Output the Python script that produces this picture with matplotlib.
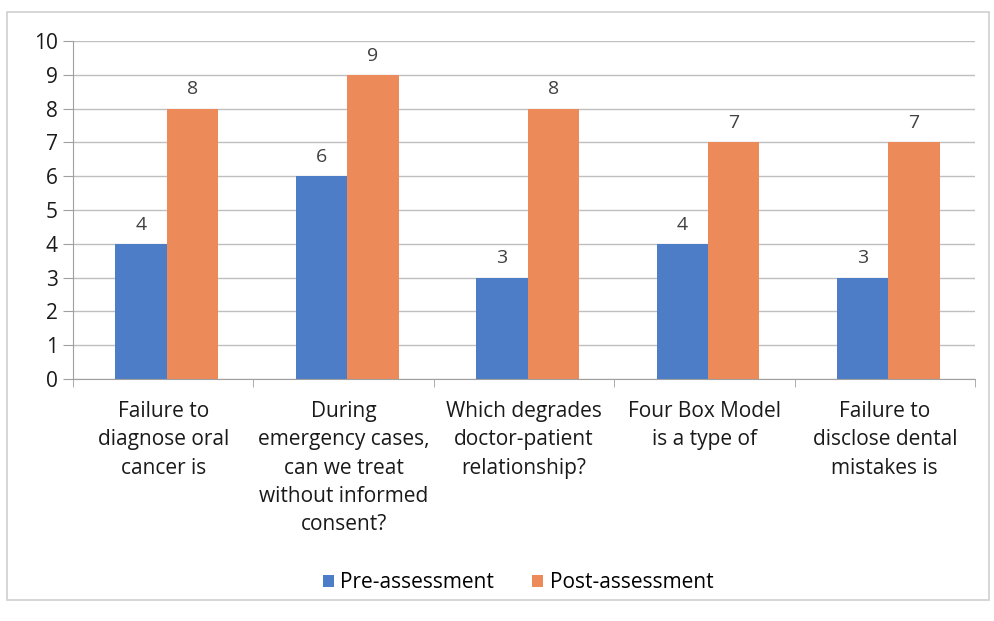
import numpy as np
import matplotlib.pyplot as plt
from matplotlib.patches import Rectangle

categories = [
    "Failure to\ndiagnose oral\ncancer is",
    "During\nemergency cases,\ncan we treat\nwithout informed\nconsent?",
    "Which degrades\ndoctor-patient\nrelationship?",
    "Four Box Model\nis a type of",
    "Failure to\ndisclose dental\nmistakes is",
]
pre = [4, 6, 3, 4, 3]
post = [8, 9, 8, 7, 7]

blue = "#4d7dc6"
orange = "#ec8a5a"

plt.rcParams["font.family"] = ["Open Sans", "DejaVu Sans"]

fig = plt.figure(figsize=(9.95, 6.21), dpi=100)
fig.patches.append(Rectangle((7 / 995, 1 - 600 / 621), 982 / 995, 588 / 621,
                             transform=fig.transFigure, fill=False,
                             edgecolor="#d0d0d0", linewidth=1.2))

ax = fig.add_axes([73 / 995, 1 - 379 / 621, 902 / 995, 338 / 621])

x = np.arange(len(categories))
w = 0.285
b1 = ax.bar(x - w / 2 + 0.02, pre, w, color=blue, label="Pre-assessment")
b2 = ax.bar(x + w / 2 + 0.02, post, w, color=orange, label="Post-assessment")

for bars in (b1, b2):
    for r in bars:
        ax.text(r.get_x() + r.get_width() / 2, r.get_height() + 0.3,
                f"{int(r.get_height())}", ha="center", va="bottom",
                fontsize=14, color="#404040")

ax.set_xlim(-0.5, len(categories) - 0.5)
ax.set_ylim(0, 10)
ax.set_yticks(range(0, 11))
ax.yaxis.grid(True, color="#bfbfbf", linewidth=1)
ax.set_axisbelow(True)
for s in ("top", "right"):
    ax.spines[s].set_visible(False)
ax.spines["left"].set_color("#a0a0a0")
ax.spines["bottom"].set_color("#a0a0a0")

ax.set_xticks(x)
ax.set_xticklabels(categories, fontsize=15, color="#1a1a1a", linespacing=1.45)
ax.set_xticks(np.arange(-0.5, len(categories)), minor=True)
ax.tick_params(axis="x", which="major", length=0, pad=16)
ax.tick_params(axis="x", which="minor", length=6, color="#a0a0a0")
ax.tick_params(axis="y", length=7, color="#a0a0a0", labelsize=15,
               labelcolor="#1a1a1a", pad=4)

fig.legend(handles=[b1, b2], loc="center", bbox_to_anchor=(518 / 995, 1 - 583 / 621),
           ncol=2, frameon=False, fontsize=15, handlelength=0.55, handleheight=0.55,
           handletextpad=0.3, columnspacing=1.8)

fig.savefig("out.png", dpi=100)
